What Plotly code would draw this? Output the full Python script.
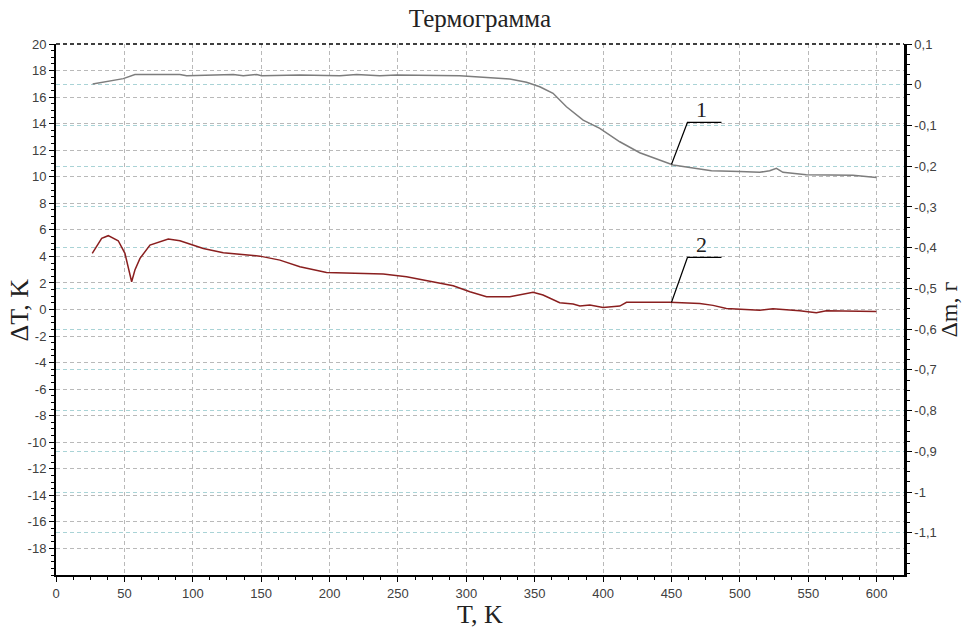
import numpy as np
import plotly.graph_objects as go

# ---- data ----
T_dT = [26.5, 33.4, 38.2, 45.5, 50.4, 52.9, 55.3, 57.7, 61.4, 68.7, 82.1, 90.6, 107.7, 122.3,
        149.1, 163.7, 178.3, 197.8, 219.8, 239.2, 256.3, 273.3, 290.4, 302.6, 314.8, 331.8,
        341.5, 348.8, 356.1, 368.3, 378.1, 383.0, 390.3, 400.0, 412.2, 417.1, 448.7, 470.7,
        480.4, 490.1, 514.5, 524.2, 543.7, 555.9, 563.2, 599.8]
dT = [4.23, 5.36, 5.56, 5.18, 4.23, 3.22, 2.09, 2.97, 3.85, 4.85, 5.31, 5.18, 4.60, 4.27,
      4.02, 3.72, 3.22, 2.79, 2.72, 2.67, 2.47, 2.14, 1.79, 1.34, 0.96, 0.96,
      1.16, 1.29, 1.09, 0.51, 0.41, 0.26, 0.33, 0.16, 0.26, 0.54, 0.54, 0.46,
      0.31, 0.08, -0.05, 0.05, -0.10, -0.25, -0.10, -0.15]

T_dm = [26.8, 49.2, 57.7, 90.6, 95.5, 129.6, 136.9, 146.7, 150.3, 178.3, 207.6, 219.8,
        236.8, 249.0, 295.3, 314.8, 331.8, 344.0, 353.7, 363.4, 373.2, 385.4, 397.6, 412.2,
        426.8, 451.2, 470.7, 479.2, 499.9, 514.5, 521.8, 526.7, 531.5, 548.6, 582.7, 599.8]
dm = [0.002, 0.015, 0.025, 0.025, 0.022, 0.025, 0.022, 0.025, 0.022, 0.024, 0.022, 0.025,
      0.022, 0.024, 0.022, 0.017, 0.014, 0.006, -0.005, -0.021, -0.054, -0.087, -0.107, -0.140,
      -0.167, -0.197, -0.208, -0.211, -0.213, -0.215, -0.211, -0.205, -0.215, -0.221, -0.222, -0.228]

x_ticks = list(range(0, 601, 50))
x_labels = [str(v) for v in x_ticks]
y_ticks = list(range(-18, 21, 2))
y_labels = [str(v) for v in y_ticks]
y2_ticks = [-1.1, -1.0, -0.9, -0.8, -0.7, -0.6, -0.5, -0.4, -0.3, -0.2, -0.1, 0.0, 0.1]
y2_labels = ["-1,1", "-1", "-0,9", "-0,8", "-0,7", "-0,6", "-0,5", "-0,4", "-0,3",
             "-0,2", "-0,1", "0", "0,1"]

title_text = "Термограмма"
x_title = "T, K"
y_title = "ΔT, K"
y2_title = "Δm, г"
label_T = 450

SERIF = "Liberation Serif, Times New Roman, serif"
SANS = "Liberation Sans, Arial, sans-serif"
GRID = "#b9b9b9"
GRID2 = "#a9d3d6"
DASH = "4px,3px"

fig = go.Figure()
fig.add_trace(go.Scatter(x=T_dm, y=dm, yaxis="y2", mode="lines",
                         line=dict(color="#7d7d7d", width=1.5), showlegend=False))
fig.add_trace(go.Scatter(x=T_dT, y=dT, yaxis="y", mode="lines",
                         line=dict(color="#8a1f1f", width=1.5), showlegend=False))

tickfont = dict(family=SANS, size=13, color="#404040")

fig.update_layout(
    width=965, height=631,
    margin=dict(l=56, r=61, t=44, b=56),
    paper_bgcolor="white", plot_bgcolor="white",
    title=dict(text=title_text, x=0.4974, xanchor="center", y=1 - 18 / 631, yanchor="middle",
               font=dict(family=SERIF, size=25, color="#222")),
    xaxis=dict(range=[0, 620], tickmode="array", tickvals=x_ticks, ticktext=x_labels,
               showline=True, linecolor="black", linewidth=2, ticks="outside", ticklen=5,
               tickcolor="black", tickfont=tickfont, showgrid=True, gridcolor=GRID,
               griddash=DASH, gridwidth=1, zeroline=False, automargin=False,
               minor=dict(tickmode="linear", tick0=0, dtick=12.5, ticks="outside", ticklen=3,
                          tickcolor="black", showgrid=False)),
    yaxis=dict(range=[-20, 20], tickmode="array", tickvals=y_ticks, ticktext=y_labels,
               showline=True, linecolor="black", linewidth=2, ticks="outside", ticklen=5,
               tickcolor="black", tickfont=tickfont, showgrid=True, gridcolor=GRID,
               griddash=DASH, gridwidth=1, zeroline=False, automargin=False,
               minor=dict(tickmode="linear", tick0=0, dtick=0.5, ticks="outside", ticklen=3,
                          tickcolor="black", showgrid=False)),
    yaxis2=dict(range=[-1.2035, 0.1], overlaying="y", side="right", anchor="x",
                tickmode="array", tickvals=y2_ticks, ticktext=y2_labels,
                showline=True, linecolor="black", linewidth=2.5, ticks="outside", ticklen=5,
                tickcolor="black", tickfont=tickfont, showgrid=True, gridcolor=GRID2,
                griddash=DASH, gridwidth=1, zeroline=False, automargin=False,
                minor=dict(tickmode="linear", tick0=0, dtick=0.025, ticks="outside", ticklen=3,
                           tickcolor="black", showgrid=False)),
)

# top dashed border
fig.add_shape(type="line", xref="paper", yref="paper", x0=0, x1=1, y0=1, y1=1,
              line=dict(color="black", width=1.5, dash=DASH))

# axis titles
fig.add_annotation(text=x_title, xref="paper", yref="paper", x=0.5, y=-0.0753,
                   xanchor="center", yanchor="middle", showarrow=False,
                   font=dict(family=SERIF, size=26, color="#222"))
fig.add_annotation(text=y_title, xref="paper", yref="paper", x=-0.0425, y=0.5,
                   xanchor="center", yanchor="middle", textangle=-90, showarrow=False,
                   font=dict(family=SERIF, size=26, color="#222"))
fig.add_annotation(text=y2_title, xref="paper", yref="paper", x=1.052, y=0.5,
                   xanchor="center", yanchor="middle", textangle=-90, showarrow=False,
                   font=dict(family=SERIF, size=24, color="#222"))

# curve labels with leader lines
v1 = float(np.interp(label_T, T_dm, dm))
v2 = float(np.interp(label_T, T_dT, dT))
for yref, val, txt, up in [("y2", v1, "1", 42), ("y", v2, "2", 45)]:
    fig.add_shape(type="path", xref="x", yref=yref, xsizemode="pixel", ysizemode="pixel",
                  xanchor=label_T, yanchor=val,
                  path=f"M0,0 L16,{up} L50,{up}", line=dict(color="black", width=1.3))
    fig.add_annotation(text=txt, xref="x", yref=yref, x=label_T, y=val, xshift=30,
                       yshift=up + 13, showarrow=False, xanchor="center", yanchor="middle",
                       font=dict(family=SERIF, size=22, color="#222"))

fig.write_html("out.html", config={"displayModeBar": False},
               post_script="document.body.style.margin='0px';")
